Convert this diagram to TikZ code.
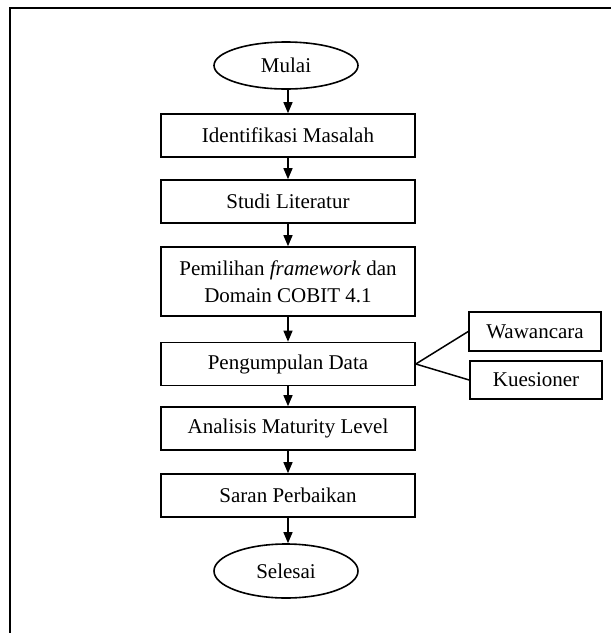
\documentclass[tikz,border=0pt]{standalone}
\usepackage{fontspec}
\setmainfont{Liberation Serif}
\usetikzlibrary{shapes.geometric,arrows.meta}
\begin{document}
\begin{tikzpicture}[x=1pt,y=-1pt,
  every node/.style={font=\fontsize{21}{27}\selectfont, line width=1.6pt},
  procbox/.style={draw, rectangle, minimum width=254pt, inner sep=0pt, align=center},
  termin/.style={draw, ellipse, minimum width=144pt, inner sep=0pt},
  sidebox/.style={draw, rectangle, minimum width=132pt, minimum height=38.5pt, inner sep=0pt},
  flow/.style={line width=1.2pt, -{Triangle[length=11pt,width=9pt]}},
  link/.style={line width=1.5pt}]
\useasboundingbox (0,0) rectangle (611,633);
\draw[line width=2pt] (9.5,633) -- (9.5,7.5) -- (611,7.5);
\node[termin, minimum height=47pt] (mulai) at (286,65.5) {Mulai};
\node[procbox, minimum height=43pt] (idm) at (288,135.5) {Identifikasi Masalah};
\node[procbox, minimum height=43pt] (stl) at (288,201.5) {Studi Literatur};
\node[procbox, minimum height=69pt] (pfd) at (288,281.5) {Pemilihan \textit{framework} dan\\Domain COBIT 4.1};
\node[procbox, minimum height=43pt] (pd) at (288,364) {Pengumpulan Data};
\node[procbox, minimum height=43pt] (aml) at (288,428.5) {Analisis Maturity Level};
\node[procbox, minimum height=43pt] (sp) at (288,495.5) {Saran Perbaikan};
\node[termin, minimum height=54pt] (sel) at (286,571) {Selesai};
\node[sidebox] (waw) at (535,331.5) {Wawancara};
\node[sidebox] (kue) at (536,380) {Kuesioner};
\draw[flow] (mulai.south -| idm.north) -- (idm.north);
\draw[flow] (idm) -- (stl);
\draw[flow] (stl) -- (pfd);
\draw[flow] (pfd) -- (pd);
\draw[flow] (pd) -- (aml);
\draw[flow] (aml) -- (sp);
\draw[flow] (sp.south) -- (sp.south |- sel.north);
\draw[link] (pd.east) -- (waw.west);
\draw[link] (pd.east) -- (kue.west);
\end{tikzpicture}
\end{document}
